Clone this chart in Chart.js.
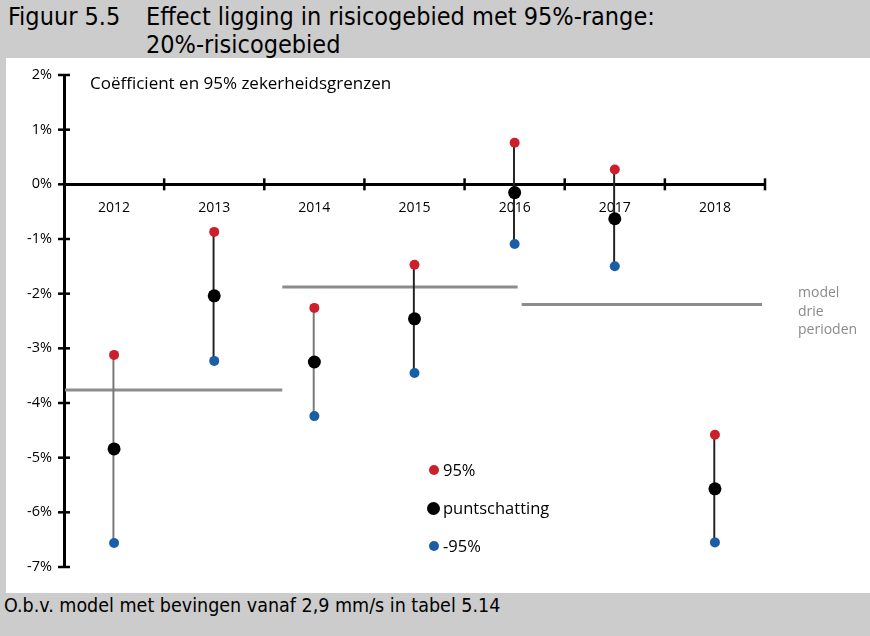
<!DOCTYPE html>
<html><head><meta charset="utf-8">
<script src="https://cdn.jsdelivr.net/npm/chart.js@4"></script>
<style>
html,body{margin:0;padding:0;}
body{width:870px;height:636px;position:relative;overflow:hidden;background:#fff;font-family:"Open Sans",sans-serif;color:#000;}
.band{position:absolute;background:#cccccc;}
.cond{font-family:"Liberation Sans Narrow","DejaVu Sans Condensed",sans-serif;font-stretch:condensed;}
.abs{position:absolute;white-space:nowrap;}
#wrap{position:absolute;left:0;top:0;width:870px;height:636px;}
.dot{position:absolute;border-radius:50%;}
</style></head>
<body>
<div class="band" style="left:0;top:0;width:870px;height:58px;"></div>
<div class="band" style="left:0;top:58px;width:6px;height:535px;"></div>
<div class="band" style="left:0;top:593px;width:870px;height:43px;"></div>
<div class="abs cond" style="left:8px;top:3px;font-size:25px;line-height:28px;">Figuur 5.5</div>
<div class="abs cond" style="left:146px;top:3px;font-size:25px;line-height:28px;">Effect ligging in risicogebied met 95%-range:<br>20%-risicogebied</div>
<div class="abs cond" style="left:4px;top:594px;font-size:19.5px;line-height:24px;">O.b.v. model met bevingen vanaf 2,9 mm/s in tabel 5.14</div>
<div id="wrap"><canvas id="c" width="870" height="636"></canvas></div>
<div class="abs" style="left:90px;top:72px;font-size:17px;line-height:22px;">Coëfficient en 95% zekerheidsgrenzen</div>
<div class="abs" style="left:798px;top:283px;font-size:14px;line-height:18.5px;color:#8a8a8a;">model<br>drie<br>perioden</div>
<div class="dot" style="left:429px;top:465px;width:10px;height:10px;background:#cc1e2b;"></div>
<div class="abs" style="left:443px;top:458px;font-size:16.5px;line-height:24px;">95%</div>
<div class="dot" style="left:426.5px;top:501.5px;width:13px;height:13px;background:#000;"></div>
<div class="abs" style="left:443px;top:496px;font-size:16.5px;line-height:24px;">puntschatting</div>
<div class="dot" style="left:429px;top:541px;width:10px;height:10px;background:#1a5ea8;"></div>
<div class="abs" style="left:443px;top:534px;font-size:16.5px;line-height:24px;">-95%</div>
<script>
const years = ['2012','2013','2014','2015','2016','2017','2018'];
const upper95 = [-3.12, -0.87, -2.26, -1.47, 0.76, 0.27, -4.58];
const estimate = [-4.84, -2.04, -3.25, -2.46, -0.15, -0.63, -5.57];
const lower95 = [-6.56, -3.23, -4.24, -3.45, -1.09, -1.50, -6.55];
const periodLevel = [-3.76, -1.88, -2.20];
const periodStart = [-0.49, 1.68, 4.07];
const periodEnd = [1.68, 4.03, 6.47];
const yTicks = [2, 1, 0, -1, -2, -3, -4, -5, -6, -7];

const barColors = ['#777777','#222222','#777777','#222222','#222222','#222222','#222222'];

const periodSets = periodLevel.map((lv, i) => ({
  type: 'line', xAxisID: 'x2', order: 5,
  data: [{x: periodStart[i], y: lv}, {x: periodEnd[i], y: lv}],
  borderColor: '#8c8c8c', borderWidth: 3, pointRadius: 0, fill: false
}));

const tickMarks = {
  id: 'tickMarks',
  beforeDatasetsDraw(chart) {
    const {ctx, chartArea, scales: {x, y}} = chart;
    ctx.save();
    ctx.strokeStyle = '#000';
    ctx.lineWidth = 2.5;
    yTicks.forEach(v => {
      const py = y.getPixelForValue(v);
      ctx.beginPath(); ctx.moveTo(chartArea.left - 6, py); ctx.lineTo(chartArea.left + 6, py); ctx.stroke();
    });
    const py0 = y.getPixelForValue(0);
    for (let i = 1; i <= years.length; i++) {
      const px = x.getPixelForValue(i - 0.5);
      ctx.beginPath(); ctx.moveTo(px, py0 - 6); ctx.lineTo(px, py0 + 6); ctx.stroke();
    }
    ctx.restore();
  }
};

new Chart(document.getElementById('c'), {
  data: {
    labels: years,
    datasets: [
      {type: 'line', label: '95%', data: upper95, showLine: false, order: 1,
       pointRadius: 5, pointHoverRadius: 5, pointBackgroundColor: '#cc1e2b', pointBorderWidth: 0, borderColor: '#cc1e2b'},
      {type: 'line', label: '-95%', data: lower95, showLine: false, order: 1,
       pointRadius: 5, pointHoverRadius: 5, pointBackgroundColor: '#1a5ea8', pointBorderWidth: 0, borderColor: '#1a5ea8'},
      {type: 'line', label: 'puntschatting', data: estimate, showLine: false, order: 0,
       pointRadius: 6.5, pointHoverRadius: 6.5, pointBackgroundColor: '#000', pointBorderWidth: 0, borderColor: '#000'},
      {type: 'bar', label: 'range', data: years.map((_, i) => [lower95[i], upper95[i]]), order: 3,
       backgroundColor: barColors, barThickness: 1.3, borderWidth: 0},
      ...periodSets
    ]
  },
  options: {
    responsive: false, animation: false, devicePixelRatio: 1,
    layout: {padding: {left: 0, top: 75, right: 105, bottom: 69}},
    plugins: {legend: {display: false}, tooltip: {enabled: false}},
    scales: {
      x: {
        type: 'category', position: {y: 0}, offset: true,
        grid: {display: false, drawTicks: false, offset: true},
        border: {display: true, color: '#000', width: 3},
        ticks: {padding: 15, color: '#000', font: {family: 'Open Sans', size: 14}, maxRotation: 0}
      },
      x2: {type: 'linear', display: false, min: -0.5, max: 6.5},
      y: {
        type: 'linear', min: -7, max: 2,
        afterFit(s) { s.width = 64; },
        afterBuildTicks(s) { s.ticks = yTicks.map(v => ({value: v})); },
        grid: {display: false, drawTicks: false},
        border: {display: true, color: '#000', width: 3},
        ticks: {padding: 12, color: '#000', font: {family: 'Open Sans', size: 14.5}, callback: v => v + '%'}
      }
    }
  },
  plugins: [tickMarks]
});
</script>
</body></html>
